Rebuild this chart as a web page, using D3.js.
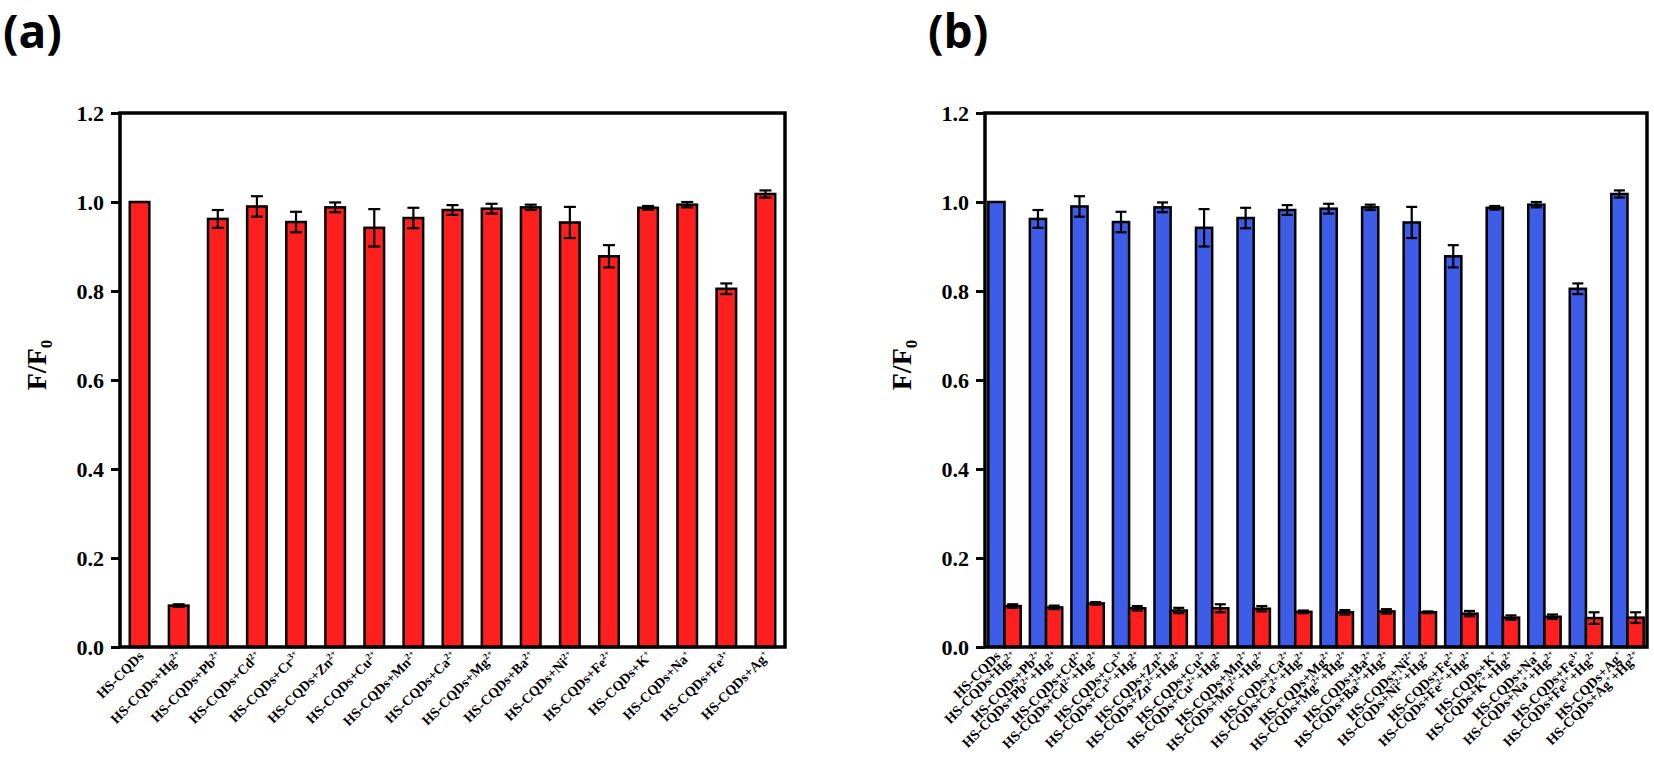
<!DOCTYPE html>
<html>
<head>
<meta charset="utf-8">
<script src="https://cdn.jsdelivr.net/npm/d3@7"></script>
<style>
  body { margin: 0; background: #fff; }
  svg { display: block; }
</style>
</head>
<body>
<svg id="chart" width="1654" height="759"></svg>
<script>
// panel (a): single ions
const labelsA = ['HS-CQDs', 'HS-CQDs+Hg^2+', 'HS-CQDs+Pb^2+', 'HS-CQDs+Cd^2+', 'HS-CQDs+Cr^3+',
    'HS-CQDs+Zn^2+', 'HS-CQDs+Cu^2+', 'HS-CQDs+Mn^2+', 'HS-CQDs+Ca^2+', 'HS-CQDs+Mg^2+',
    'HS-CQDs+Ba^2+', 'HS-CQDs+Ni^2+', 'HS-CQDs+Fe^2+', 'HS-CQDs+K^+', 'HS-CQDs+Na^+',
    'HS-CQDs+Fe^3+', 'HS-CQDs+Ag^+'];
const valuesA = [1.000, 0.093, 0.962, 0.990, 0.955, 0.988, 0.942, 0.964, 0.982, 0.985,
    0.988, 0.954, 0.878, 0.987, 0.994, 0.805, 1.018];
const errorsA = [0, 0.003, 0.020, 0.023, 0.023, 0.011, 0.042, 0.023, 0.011, 0.011,
    0.006, 0.035, 0.025, 0.004, 0.006, 0.012, 0.008];

// panel (b): ion alone (blue) and ion + Hg2+ (red)
const blueLabelsB = ['HS-CQDs', 'HS-CQDs+Pb^2+', 'HS-CQDs+Cd^2+', 'HS-CQDs+Cr^3+', 'HS-CQDs+Zn^2+',
    'HS-CQDs+Cu^2+', 'HS-CQDs+Mn^2+', 'HS-CQDs+Ca^2+', 'HS-CQDs+Mg^2+', 'HS-CQDs+Ba^2+',
    'HS-CQDs+Ni^2+', 'HS-CQDs+Fe^2+', 'HS-CQDs+K^+', 'HS-CQDs+Na^+', 'HS-CQDs+Fe^3+', 'HS-CQDs+Ag^+'];
const redLabelsB = ['HS-CQDs+Hg^2+', 'HS-CQDs+Pb^2++Hg^2+', 'HS-CQDs+Cd^2++Hg^2+', 'HS-CQDs+Cr^3++Hg^2+',
    'HS-CQDs+Zn^2++Hg^2+', 'HS-CQDs+Cu^2++Hg^2+', 'HS-CQDs+Mn^2++Hg^2+', 'HS-CQDs+Ca^2++Hg^2+',
    'HS-CQDs+Mg^2++Hg^2+', 'HS-CQDs+Ba^2++Hg^2+', 'HS-CQDs+Ni^2++Hg^2+', 'HS-CQDs+Fe^2++Hg^2+',
    'HS-CQDs+K^++Hg^2+', 'HS-CQDs+Na^++Hg^2+', 'HS-CQDs+Fe^3++Hg^2+', 'HS-CQDs+Ag^++Hg^2+'];
const blueValuesB = [1.000, 0.962, 0.990, 0.955, 0.988, 0.942, 0.964, 0.982, 0.985,
    0.988, 0.954, 0.878, 0.987, 0.994, 0.805, 1.018];
const blueErrorsB = [0, 0.020, 0.023, 0.023, 0.011, 0.042, 0.023, 0.011, 0.011,
    0.006, 0.035, 0.025, 0.004, 0.006, 0.012, 0.008];
const redValuesB = [0.092, 0.089, 0.098, 0.087, 0.082, 0.087, 0.086, 0.079, 0.078,
    0.080, 0.078, 0.075, 0.066, 0.068, 0.065, 0.066];
const redErrorsB = [0.004, 0.004, 0.003, 0.005, 0.006, 0.009, 0.006, 0.003, 0.005,
    0.005, 0.002, 0.006, 0.005, 0.005, 0.013, 0.012];

const yTicks = [0, 0.2, 0.4, 0.6, 0.8, 1.0, 1.2];

const RED = '#ff1f1f';
const BLUE = '#3d5ce8';
const serif = "'Liberation Serif', 'Times New Roman', serif";

const svg = d3.select('#chart');

const plotTop = 113, plotBottom = 647;
const y = d3.scaleLinear().domain([0, 1.2]).range([plotBottom, plotTop]);

// rotated category label with superscript charges
function label(g, text, x, yPos) {
    const t = g.append('text')
        .attr('transform', `translate(${x},${yPos}) rotate(-45)`)
        .attr('text-anchor', 'end')
        .attr('font-family', serif)
        .attr('font-weight', 'bold')
        .attr('font-size', 14);
    let raised = false;
    text.split(/(\^\d?\+)/).filter(s => s !== '').forEach(part => {
        if (part[0] === '^') {
            t.append('tspan').attr('font-size', 9).attr('dy', -5).text(part.slice(1));
            raised = true;
        } else {
            t.append('tspan').attr('dy', raised ? 5 : 0).text(part);
            raised = false;
        }
    });
}

function errorBars(g, xs, vals, errs, cap) {
    vals.forEach((v, i) => {
        if (!errs[i]) return;
        const cx = xs[i];
        const y0 = y(v - errs[i]), y1 = y(v + errs[i]);
        g.append('line').attr('x1', cx).attr('x2', cx).attr('y1', y0).attr('y2', y1);
        g.append('line').attr('x1', cx - cap / 2).attr('x2', cx + cap / 2).attr('y1', y0).attr('y2', y0);
        g.append('line').attr('x1', cx - cap / 2).attr('x2', cx + cap / 2).attr('y1', y1).attr('y2', y1);
    });
}

function frame(left, right, panelName, nameX) {
    const yAxis = d3.axisLeft(y)
        .tickValues(yTicks)
        .tickFormat(d3.format('.1f'))
        .tickSize(9)
        .tickPadding(7);

    const ax = svg.append('g')
        .attr('transform', `translate(${left},0)`)
        .call(yAxis);
    ax.select('.domain').remove();
    ax.selectAll('line').attr('stroke', '#000').attr('stroke-width', 3);
    ax.selectAll('text')
        .attr('font-family', serif)
        .attr('font-weight', 'bold')
        .attr('font-size', 22)
        .attr('fill', '#000');

    svg.append('rect')
        .attr('x', left)
        .attr('y', plotTop)
        .attr('width', right - left)
        .attr('height', plotBottom - plotTop)
        .attr('fill', 'none')
        .attr('stroke', '#000')
        .attr('stroke-width', 3.5);

    const title = svg.append('text')
        .attr('transform', `translate(${left - 74},${(plotTop + plotBottom) / 2 - 15}) rotate(-90)`)
        .attr('text-anchor', 'middle')
        .attr('font-family', serif)
        .attr('font-weight', 'bold')
        .attr('font-size', 28);
    title.append('tspan').text('F/F');
    title.append('tspan').attr('font-size', 17).attr('dy', 6).text('0');

    svg.append('text')
        .attr('x', nameX)
        .attr('y', 48)
        .attr('font-family', "'Open Sans', 'DejaVu Sans', sans-serif")
        .attr('font-weight', 'bold')
        .attr('font-size', 46)
        .text(panelName);
}

// ---- panel (a)
{
    const left = 120, right = 785;
    const x = d3.scaleBand()
        .domain(labelsA)
        .range([left, right])
        .paddingInner(0.5)
        .paddingOuter(0.25);

    svg.append('g')
        .selectAll('rect')
        .data(labelsA)
        .join('rect')
        .attr('x', d => x(d))
        .attr('y', (d, i) => y(valuesA[i]))
        .attr('width', x.bandwidth())
        .attr('height', (d, i) => y(0) - y(valuesA[i]))
        .attr('fill', RED)
        .attr('stroke', '#000')
        .attr('stroke-width', 2.5);

    const eb = svg.append('g').attr('stroke', '#000').attr('stroke-width', 2.2);
    errorBars(eb, labelsA.map(d => x(d) + x.bandwidth() / 2), valuesA, errorsA, 12);

    frame(left, right, '(a)', 3);

    const lg = svg.append('g');
    labelsA.forEach(d => label(lg, d, x(d) + x.bandwidth() / 2 + 5, 657));
}

// ---- panel (b)
{
    const left = 985, right = 1647;
    const groups = d3.range(blueLabelsB.length);
    const x0 = d3.scaleBand()
        .domain(groups)
        .range([left, right])
        .paddingInner(0.22)
        .paddingOuter(0.08);
    const x1 = d3.scaleBand()
        .domain(['blue', 'red'])
        .range([0, x0.bandwidth()]);

    const series = [
        { key: 'blue', color: BLUE, values: blueValuesB, errors: blueErrorsB, labels: blueLabelsB },
        { key: 'red', color: RED, values: redValuesB, errors: redErrorsB, labels: redLabelsB }
    ];

    series.forEach(s => {
        svg.append('g')
            .selectAll('rect')
            .data(groups)
            .join('rect')
            .attr('x', i => x0(i) + x1(s.key))
            .attr('y', i => y(s.values[i]))
            .attr('width', x1.bandwidth())
            .attr('height', i => y(0) - y(s.values[i]))
            .attr('fill', s.color)
            .attr('stroke', '#000')
            .attr('stroke-width', 2.5);
    });

    const eb = svg.append('g').attr('stroke', '#000').attr('stroke-width', 2.2);
    series.forEach(s => {
        errorBars(eb, groups.map(i => x0(i) + x1(s.key) + x1.bandwidth() / 2), s.values, s.errors, 11);
    });

    frame(left, right, '(b)', 928);

    const lg = svg.append('g');
    series.forEach(s => {
        groups.forEach(i => label(lg, s.labels[i], x0(i) + x1(s.key) + x1.bandwidth() / 2 + 5, 657));
    });
}
</script>
</body>
</html>
